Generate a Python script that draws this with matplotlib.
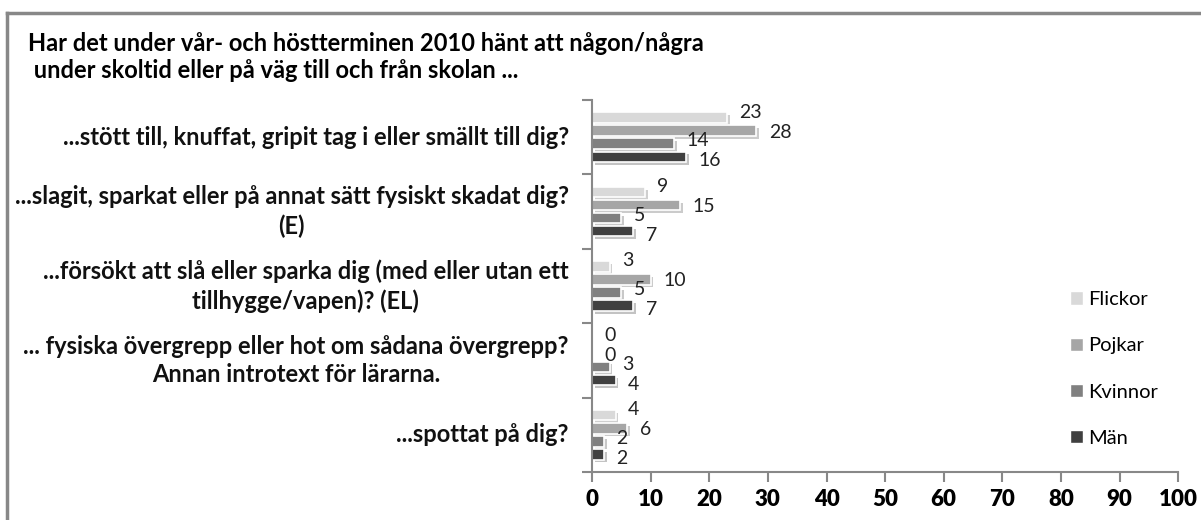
import matplotlib.pyplot as plt
import matplotlib.patheffects as pe
from matplotlib.patches import Patch
import numpy as np

plt.rcParams['font.family'] = ['Lato', 'DejaVu Sans']

categories = [
    "...stött till, knuffat, gripit tag i eller smällt till dig?",
    "...slagit, sparkat eller på annat sätt fysiskt skadat dig?\n(E)",
    "...försökt att slå eller sparka dig (med eller utan ett\ntillhygge/vapen)? (EL)",
    "... fysiska övergrepp eller hot om sådana övergrepp?\nAnnan introtext för lärarna.",
    "...spottat på dig?",
]
series = ["Flickor", "Pojkar", "Kvinnor", "Män"]
flickor = [23, 9, 3, 0, 4]
pojkar = [28, 15, 10, 0, 6]
kvinnor = [14, 5, 5, 3, 2]
man = [16, 7, 7, 4, 2]
values = [flickor, pojkar, kvinnor, man]
colors = ["#d9d9d9", "#a6a6a6", "#808080", "#404040"]
xticks = list(range(0, 101, 10))

fig = plt.figure(figsize=(12.01, 5.20), dpi=100)
ax = fig.add_axes([0.493, 0.0923, 0.488, 0.7154])

n = len(categories)
ypos = np.arange(n)
bar_h = 0.14
step = 0.175
# label vertical nudges (points) to mimic the staggered labels
nudge = [4, -1, 2, -3]

for i, (vals, col, name) in enumerate(zip(values, colors, series)):
    y = ypos + (i - 1.5) * step
    bars = ax.barh(y, vals, height=bar_h, color=col, edgecolor="white", linewidth=1.2,
                   label=name)
    for b in bars:
        b.set_path_effects([pe.SimplePatchShadow(offset=(2, -2), alpha=0.25), pe.Normal()])
    for yy, v in zip(y, vals):
        ax.annotate(str(v), (v, yy), xytext=(9, nudge[i]), textcoords="offset points",
                    ha="left", va="center", fontsize=14, color="#222222")

ax.set_ylim(n - 0.5, -0.5)
ax.set_xlim(0, 100)
ax.set_xticks(xticks)
ax.set_xticklabels([str(t) for t in xticks], fontweight="heavy", fontsize=16)
ax.set_yticks(np.arange(n + 1) - 0.5)
ax.set_yticklabels([])
ax.tick_params(axis="y", length=7, width=1.5, color="#888888", direction="out")
ax.tick_params(axis="x", length=7, width=1.5, color="#888888", direction="out", pad=5)
for s in ["top", "right"]:
    ax.spines[s].set_visible(False)
for s in ["left", "bottom"]:
    ax.spines[s].set_color("#888888")
    ax.spines[s].set_linewidth(1.5)

for yy, lab in zip(ypos, categories):
    ax.text(-0.04, yy, lab, transform=ax.get_yaxis_transform(), ha="right", va="center",
            multialignment="center", fontsize=17, fontweight="bold", linespacing=1.3,
            color="#111111")

fig.text(0.023, 0.917, "Har det under vår- och höstterminen 2010 hänt att någon/några",
         fontsize=17, fontweight="bold", va="center", ha="left")
fig.text(0.023, 0.865, " under skoltid eller på väg till och från skolan ...",
         fontsize=17, fontweight="bold", va="center", ha="left")

handles = [Patch(facecolor=c, edgecolor="white", label=s) for c, s in zip(colors, series)]
fig.legend(handles=handles, loc="upper left", bbox_to_anchor=(0.876, 0.475), frameon=False,
           fontsize=14.5, handlelength=0.65, handleheight=0.65, handletextpad=0.25,
           labelspacing=1.45)

# outer chart border (top and left edges)
fig.add_artist(plt.Line2D([0.006, 1.0], [0.975, 0.975], color="#888888", linewidth=2.5))
fig.add_artist(plt.Line2D([0.006, 0.006], [0.0, 0.975], color="#888888", linewidth=2.5))

fig.savefig("out.png", dpi=100)
